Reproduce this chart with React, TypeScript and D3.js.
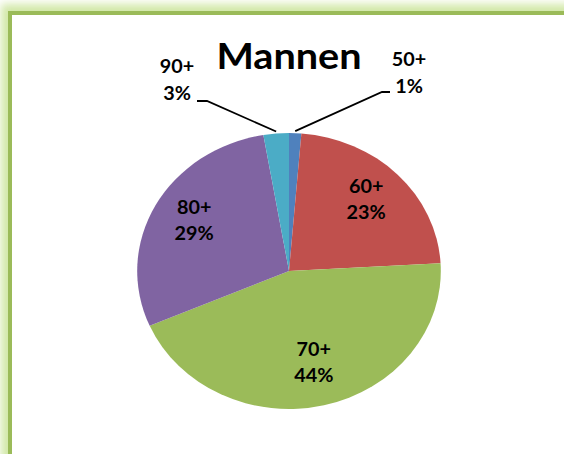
import React from "react";
import * as d3 from "d3";

const categories = ["50+", "60+", "70+", "80+", "90+"];
const values = [1.3, 22.8, 44.4, 28.8, 2.7];
const percentLabels = ["1%", "23%", "44%", "29%", "3%"];
const colors = ["#4F81BD", "#C0504D", "#9BBB59", "#8064A2", "#4BACC6"];
const title = "Mannen";

const W = 564;
const H = 454;
const CX = 289;
const CY = 271;
const R = 138;
const SX = 1.1; // horizontal stretch of the reference
const LABEL_R = 98;
const FONT = "Lato, 'Open Sans', sans-serif";

// outside labels (index -> elbow offset, text position)
const outside: Record<number, { elbow: [number, number]; end: [number, number]; text: [number, number] }> = {
  0: { elbow: [382, 92], end: [390, 92], text: [409, 66] },
  4: { elbow: [207, 101], end: [197, 101], text: [177, 73] },
};

export default function App() {
  const pie = d3.pie<number>().sort(null).value((d) => d).startAngle(0).endAngle(2 * Math.PI);
  const arcs = pie(values);
  const arc = d3.arc<d3.PieArcDatum<number>>().innerRadius(0).outerRadius(R);
  const labelArc = d3.arc<d3.PieArcDatum<number>>().innerRadius(LABEL_R).outerRadius(LABEL_R);

  const toScreen = (p: [number, number]): [number, number] => [CX + p[0] * SX, CY + p[1]];

  const txt = (x: number, y: number, s: string, size: number, key: string) => (
    <text
      key={key}
      transform={`translate(${x},${y}) scale(${SX},1)`}
      textAnchor="middle"
      fontFamily={FONT}
      fontWeight="bold"
      fontSize={size}
      fill="#000"
    >
      {s}
    </text>
  );

  return (
    <svg width={W} height={H} style={{ position: "absolute", left: 0, top: 0 }}>
      <defs>
        <filter id="glow" x="-20%" y="-20%" width="140%" height="140%">
          <feGaussianBlur stdDeviation="4" />
        </filter>
      </defs>
      <rect width={W} height={H} fill="#fff" />
      <rect x={10} y={13} width={640} height={520} fill="none" stroke="#D2E8A8" strokeWidth={18} filter="url(#glow)" />
      <rect x={10} y={13} width={640} height={520} fill="#fff" />
      <rect x={10} y={13} width={640} height={520} fill="none" stroke="#9BBB59" strokeWidth={4} />

      {txt(CX, 69, title, 36, "title")}

      <g transform={`translate(${CX},${CY}) scale(${SX},1)`}>
        {arcs.map((a, i) => (
          <path key={categories[i]} d={arc(a) || ""} fill={colors[i]} />
        ))}
      </g>

      {arcs.map((a, i) => {
        if (outside[i]) {
          const mid = (a.startAngle + a.endAngle) / 2;
          const p = toScreen([Math.sin(mid) * R, -Math.cos(mid) * R]);
          const o = outside[i];
          return (
            <g key={"o" + i}>
              <polyline
                points={`${p[0]},${p[1] - 2} ${o.elbow[0]},${o.elbow[1]} ${o.end[0]},${o.end[1]}`}
                fill="none"
                stroke="#000"
                strokeWidth={1.8}
              />
              {txt(o.text[0], o.text[1], categories[i], 18, "c" + i)}
              {txt(o.text[0], o.text[1] + 27, percentLabels[i], 18, "p" + i)}
            </g>
          );
        }
        const c = labelArc.centroid(a);
        const [x, y] = toScreen([c[0], c[1]]);
        return (
          <g key={"l" + i}>
            {txt(x, y - 10, categories[i], 18, "c" + i)}
            {txt(x, y + 16, percentLabels[i], 18, "p" + i)}
          </g>
        );
      })}
    </svg>
  );
}
